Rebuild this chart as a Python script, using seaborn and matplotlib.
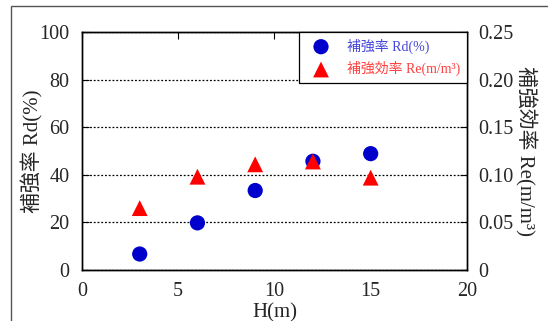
import matplotlib
matplotlib.use("Agg")
import matplotlib.pyplot as plt
from matplotlib.patches import Rectangle
import pandas as pd
import seaborn as sns

# H (m)
heights = [3, 6, 9, 12, 15]
# 補強率 Rd (%)
rd_values = [6.7, 19.8, 33.4, 45.7, 48.9]
# 補強効率 Re (m/m3)
re_values = [0.065, 0.098, 0.111, 0.114, 0.097]

x_ticks = [0, 5, 10, 15, 20]
left_ticks = [0, 20, 40, 60, 80, 100]
right_ticks = [0, 0.05, 0.10, 0.15, 0.20, 0.25]
right_labels = ["0", "0.05", "0.10", "0.15", "0.20", "0.25"]

sns.set_style("white")
plt.rcParams["font.family"] = ["Liberation Serif", "Noto Sans CJK JP"]
plt.rcParams["xtick.direction"] = "in"
plt.rcParams["ytick.direction"] = "in"

df = pd.DataFrame({"H": heights, "Rd": rd_values, "Re": re_values})

fig = plt.figure(figsize=(5.48, 3.21), dpi=100)
ax = fig.add_axes([0.1496, 0.159, 0.7024, 0.741])
ax2 = ax.twinx()

sns.scatterplot(data=df, x="H", y="Rd", ax=ax, color="#0000cc", marker="o",
                s=120, edgecolor="none", label="補強率 Rd(%)", legend=False)
sns.scatterplot(data=df, x="H", y="Re", ax=ax2, color="#ff0000", marker="^",
                s=130, edgecolor="none", label="補強効率 Re(m/m³)", legend=False)

ax.set_xlim(0, 20)
ax.set_ylim(0, 100)
ax2.set_ylim(0, 0.25)
ax.set_xticks(x_ticks)
ax.set_yticks(left_ticks)
ax2.set_yticks(right_ticks)
ax2.set_yticklabels(right_labels)

ax.grid(axis="y", linestyle=(0, (1.5, 1.5)), color="black", linewidth=0.9)
ax.tick_params(axis="x", top=True, labelsize=14.5, length=5, color="black", pad=9)
ax.tick_params(axis="y", labelsize=14.5, length=5, color="black", pad=9)
ax2.tick_params(axis="y", labelsize=14.5, length=5, color="black", pad=8)
for sp in list(ax.spines.values()) + list(ax2.spines.values()):
    sp.set_color("black")
    sp.set_linewidth(1.0)

ax.set_xlabel("H(m)", fontsize=15, labelpad=1)
ax.set_ylabel("補強率 Rd(%)", fontsize=15)
ax.yaxis.set_label_coords(-0.099, 0.5)
ax2.set_ylabel("補強効率 Re(m/m³)", fontsize=15, rotation=270, va="bottom")
ax2.yaxis.set_label_coords(1.125, 0.5)

h1, l1 = ax.get_legend_handles_labels()
h2, l2 = ax2.get_legend_handles_labels()
leg = ax2.legend(h1 + h2, l1 + l2, loc="upper right", borderaxespad=0,
                 fancybox=False, edgecolor="black", framealpha=1,
                 fontsize=10, handletextpad=0.8, borderpad=0.45,
                 labelspacing=0.55, handlelength=2.2)
leg.get_frame().set_linewidth(0.9)
leg.get_texts()[0].set_color("#4444dd")
leg.get_texts()[1].set_color("#ff4040")

fig.patches.append(Rectangle((11 / 548, -0.1), 1.2, 1.1 - 6 / 321,
                             transform=fig.transFigure, fill=False,
                             edgecolor="#555555", linewidth=1.0))

fig.savefig("out.png", dpi=100)
